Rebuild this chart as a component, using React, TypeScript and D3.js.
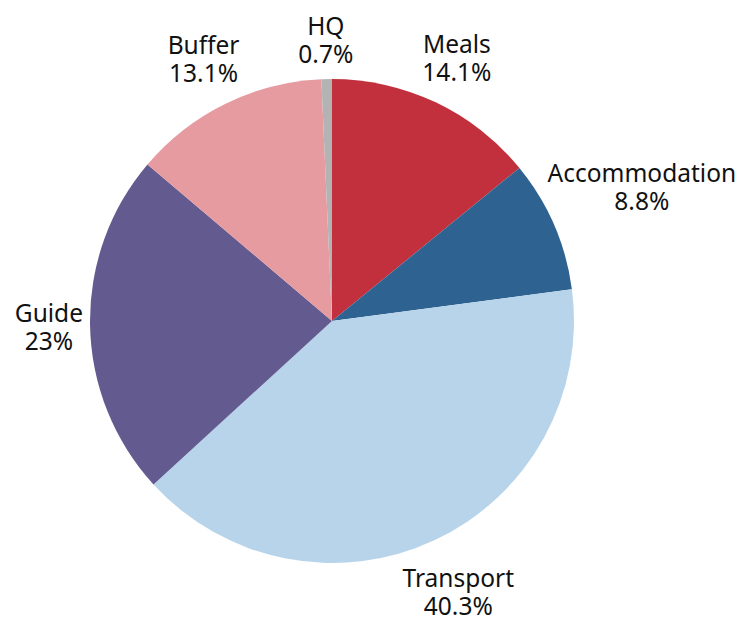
import React, { useEffect, useRef } from "react";
import * as d3 from "d3";

const categories = ["Meals", "Accommodation", "Transport", "Guide", "Buffer", "HQ"];
const values = [14.1, 8.8, 40.3, 23, 13.1, 0.7];
const colors = ["#C1303C", "#2E6391", "#B8D4EA", "#635A8F", "#E69BA0", "#B3B3B3"];

const W = 747;
const H = 619;
const CX = 332;
const CY = 321;
const R = 242;
const FONT = "'Noto Sans', 'Open Sans', sans-serif";
const FS = 24.5;
const LH = 28;

export default function App() {
  const ref = useRef<SVGSVGElement>(null);

  useEffect(() => {
    const svg = d3.select(ref.current);
    svg.selectAll("*").remove();
    const data = categories.map((c, i) => ({ name: c, value: values[i], color: colors[i] }));
    const pie = d3.pie<any>().sort(null).value((d: any) => d.value).startAngle(0).endAngle(2 * Math.PI);
    const arcs = pie(data);
    const arc = d3.arc<any>().innerRadius(0).outerRadius(R);
    const g = svg.append("g").attr("transform", `translate(${CX},${CY})`);
    g.selectAll("path")
      .data(arcs)
      .enter()
      .append("path")
      .attr("d", arc as any)
      .attr("fill", (d: any) => d.data.color);

    const lg = svg.append("g");
    arcs.forEach((a: any) => {
      const mid = (a.startAngle + a.endAngle) / 2;
      const s = Math.sin(mid);
      const c = Math.cos(mid);
      const t = lg
        .append("text")
        .attr("font-family", FONT)
        .attr("font-size", FS)
        .attr("fill", "#111")
        .attr("text-anchor", "middle");
      t.append("tspan").attr("x", 0).attr("y", 0).text(a.data.name);
      t.append("tspan").attr("x", 0).attr("y", LH).text(`${a.data.value}%`);
      const bb = (t.node() as SVGTextElement).getBBox();
      const hw = bb.width / 2;
      const hh = bb.height / 2 - 3;
      const dist = R + 12 + 0.84 * hw * Math.abs(s) + hh * Math.abs(c);
      const cx = CX + dist * s;
      const cy = CY - dist * c;
      const bcx = bb.x + bb.width / 2;
      const bcy = bb.y + bb.height / 2;
      t.attr("transform", `translate(${cx - bcx},${cy - bcy})`);
    });
  }, []);

  return (
    <div style={{ position: "absolute", left: 0, top: 0 }}>
      <svg ref={ref} width={W} height={H} style={{ display: "block", background: "#fff" }} />
    </div>
  );
}
